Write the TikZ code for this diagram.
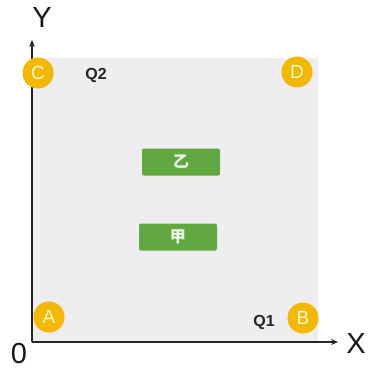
\documentclass[tikz,border=0pt]{standalone}
\usepackage{fontspec}
\setmainfont{Liberation Sans}
\newfontfamily\cjk{Noto Sans CJK SC}
\usetikzlibrary{arrows.meta}
\definecolor{gold}{HTML}{F4B800}
\definecolor{bggray}{HTML}{EEEEF0}
\definecolor{leaf}{HTML}{62A840}
\tikzset{
  pt/.style={circle,fill=gold,minimum size=31pt,inner sep=0pt,text=yellow!15,font=\fontsize{19}{19}\selectfont},
  tag/.style={rounded corners=2pt,fill=leaf,minimum width=78pt,minimum height=27pt,inner sep=0pt,text=white!90!leaf,font=\cjk\bfseries\fontsize{16}{16}\selectfont},
  ql/.style={font=\bfseries\fontsize{16}{16}\selectfont,text=black!85},
  axl/.style={font=\fontsize{29}{29}\selectfont,text=black!90},
  axis/.style={line width=2pt,draw=black!85,-{Stealth[length=7pt,width=6pt]}}
}
\begin{document}
\begin{tikzpicture}[x=1pt,y=-1pt]
\useasboundingbox (0,0) rectangle (369,376);
\fill[bggray] (32,58) rectangle (318,342);
\coordinate (o) at (32,342);
\coordinate (ytip) at (32,40);
\coordinate (xtip) at (338,342);
\draw[axis] (o) -- (ytip);
\draw[axis] (o) -- (xtip);
\node[axl] (ylab) at (42,18) {Y};
\node[axl] (xlab) at (356,344) {X};
\node[axl] (zero) at (19,354) {0};
\node[pt] (C) at (38,73) {C};
\node[pt] (D) at (297,72) {D};
\node[pt] (A) at (49,317) {A};
\node[pt] (B) at (303,318) {B};
\node[ql] (q2) at (96,75) {Q2};
\node[ql] (q1) at (264,322) {Q1};
\node[tag] (yi) at (181,162) {乙};
\node[tag] (jia) at (178,237) {甲};
\end{tikzpicture}
\end{document}
